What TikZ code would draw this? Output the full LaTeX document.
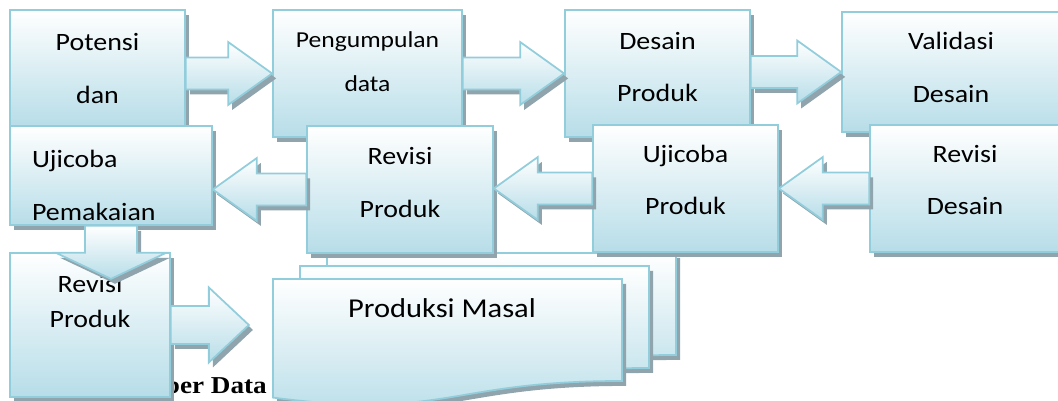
\documentclass[tikz,border=0pt]{standalone}
\usepackage{fontspec}
\setmainfont{Carlito}[FakeStretch=1.12]
\newfontfamily\capfont{Liberation Serif}[FakeStretch=1.12]
\usetikzlibrary{calc}
\usetikzlibrary{shadows}

\definecolor{edgeblue}{HTML}{92CDDC}
\definecolor{fillblue}{HTML}{B7DDE8}
\definecolor{shadowgrey}{HTML}{8FA4AC}

\newcommand{\lowpad}[1]{\rule[-#1]{0pt}{0pt}}

\tikzset{
  stage/.style={draw=edgeblue, line width=1pt, top color=white, bottom color=fillblue,
    drop shadow={shadow xshift=2.3pt, shadow yshift=-2.8pt, fill=shadowgrey, opacity=1},
    inner sep=0pt, align=center, font=\fontsize{14.2}{29.8}\selectfont},
  docpage/.style={draw=edgeblue, line width=1pt, top color=white, bottom color=fillblue,
    drop shadow={shadow xshift=2.3pt, shadow yshift=-2.8pt, fill=shadowgrey, opacity=1}},
  blockflow/.style n args={3}{draw=edgeblue, line width=1pt, top color=white, bottom color=fillblue,
    drop shadow={shadow xshift=2.3pt, shadow yshift=-2.8pt, fill=shadowgrey, opacity=1},
    to path={($(\tikztostart)!#1!90:(\tikztotarget)$)
      -- ($(\tikztotarget)!#3!(\tikztostart)!#1!-90:(\tikztostart)$)
      -- ($(\tikztotarget)!#3!(\tikztostart)!#2!-90:(\tikztostart)$)
      -- (\tikztotarget)
      -- ($(\tikztotarget)!#3!(\tikztostart)!#2!90:(\tikztostart)$)
      -- ($(\tikztotarget)!#3!(\tikztostart)!#1!90:(\tikztostart)$)
      -- ($(\tikztostart)!#1!-90:(\tikztotarget)$) -- cycle}},
  rowflow/.style={blockflow={0.32cm}{0.63cm}{0.88cm}}
}

\begin{document}
\begin{tikzpicture}[x=0.02cm, y=-0.02cm]
\useasboundingbox (0,0) rectangle (1058,401);

% caption under the boxes
\node[font=\fontsize{13.8}{15}\selectfont\capfont\bfseries, anchor=base east] (cap) at (273,394) {Sumber Data};

% first row
\node[stage, minimum width=3.5cm, minimum height=2.34cm] (PD) at (97.5,68.5) {Potensi\\dan};
\node[stage, minimum width=3.78cm, minimum height=2.54cm, font=\fontsize{13}{25.3}\selectfont] (PG) at (367.5,73.5) {Pengumpulan\\data\lowpad{0.48cm}};
\node[stage, minimum width=3.7cm, minimum height=2.54cm] (DP) at (657.5,73.5) {Desain\\Produk\lowpad{0.26cm}};
\node[stage, minimum width=4.36cm, minimum height=2.4cm] (VD) at (951,72) {Validasi\\Desain\lowpad{0.18cm}};

\draw[rowflow] (PD.east |- PG.west) to (PG.west);
\draw[rowflow] (PG.east) to (DP.west);
\draw[rowflow] (DP.east |- VD.west) to (VD.west);

% third row
\node[stage, minimum width=3.2cm, minimum height=2.88cm, font=\fontsize{14.2}{19.9}\selectfont] (RP3) at (90,325) {Revisi\\Produk\lowpad{0.96cm}};
\foreach \s in {2,1,0}
  \draw[docpage, shift={(27*\s,-13*\s)}] (273,279) -- (622,279) -- (622,381)
    .. controls (447.5,381) and (447.5,420) .. (273,397.6) -- cycle;
\node[font=\fontsize{15.5}{18}\selectfont, anchor=base] (PM) at (442,318) {Produksi Masal};
\coordinate (masalin) at ($(RP3.east)+(78,0)$);
\draw[blockflow={0.38cm}{0.75cm}{0.8cm}] (RP3.east) to (masalin);

% second row
\node[stage, minimum width=4.04cm, minimum height=1.98cm, align=left, text width=3.16cm] (UP) at (111,175.5) {\rule{0pt}{0.75cm}Ujicoba\\Pemakaian};
\coordinate (revin) at ($(UP.south)+(0,53)$);
\draw[blockflow={0.52cm}{1.1cm}{0.52cm}] (UP.south) to (revin);

\node[stage, minimum width=3.72cm, minimum height=2.54cm] (RP2) at (400,189.5) {Revisi\\Produk\lowpad{0.28cm}};
\node[stage, minimum width=3.7cm, minimum height=2.54cm] (UjP) at (685.5,188.5) {Ujicoba\\Produk\lowpad{0.34cm}};
\node[stage, minimum width=3.8cm, minimum height=2.54cm] (RD) at (965,188.5) {Revisi\\Desain\lowpad{0.34cm}};

\draw[rowflow] (RD.west) to (UjP.east |- RD.west);
\draw[rowflow] (UjP.west) to (RP2.east |- UjP.west);
\draw[rowflow] (RP2.west) to (UP.east |- RP2.west);
\end{tikzpicture}
\end{document}
